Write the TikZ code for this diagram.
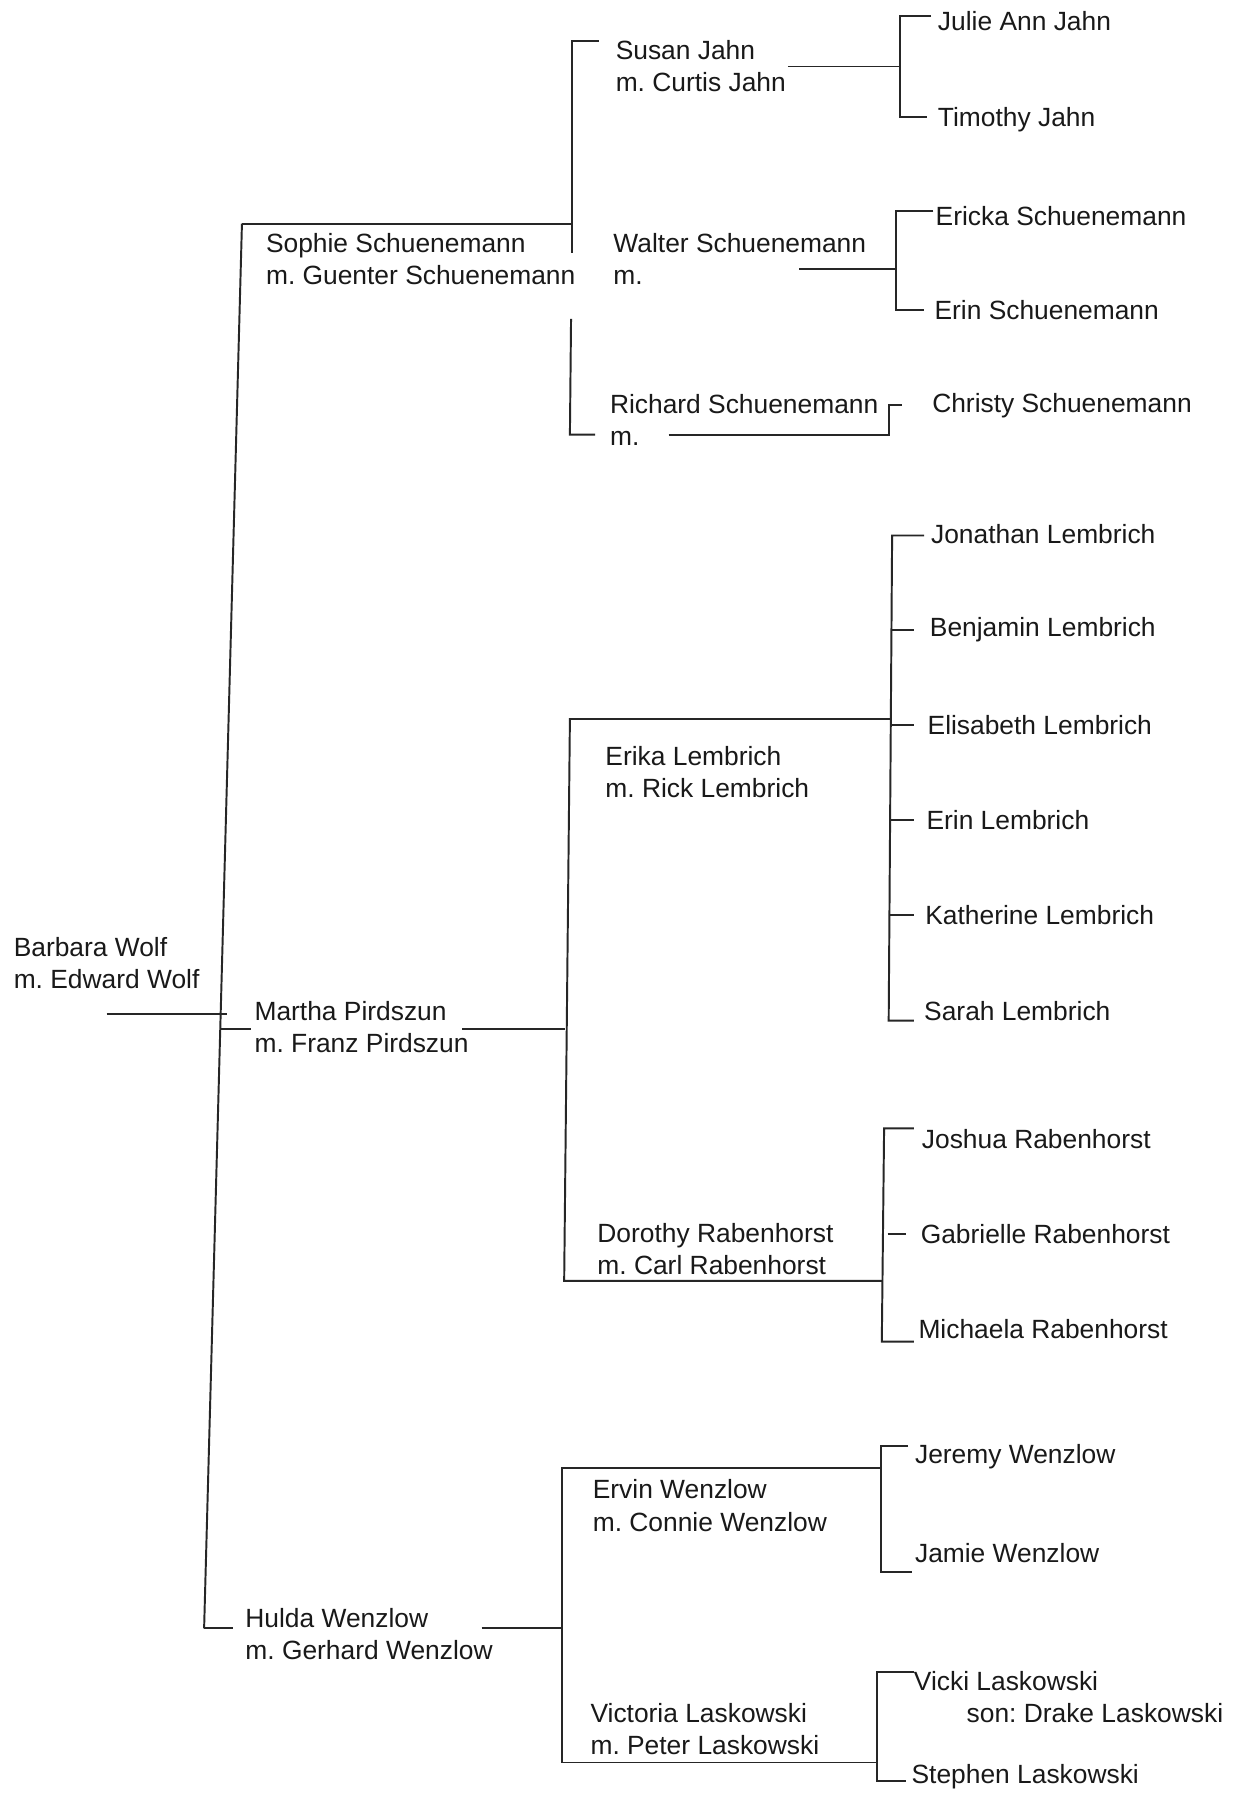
\documentclass[tikz,border=0pt]{standalone}
\usepackage{fontspec}
\setmainfont{Liberation Sans}
\frenchspacing
\begin{document}
\begin{tikzpicture}[x=0.5pt,y=-0.5pt,
  link/.style={line width=0.85pt, black!85},
  person/.style={anchor=west, inner sep=0pt, outer sep=0pt, align=left,
    font=\fontsize{11.5}{14}\selectfont, text=black!90}]
\useasboundingbox[fill=white] (0,0) rectangle (1077,1568);

% ---------- people ----------
\node[person] (barbara)  at (12,840)  {Barbara Wolf\\m. Edward Wolf};

\node[person] (sophie)   at (232,226) {Sophie Schuenemann\\m. Guenter Schuenemann};
\node[person] (martha)   at (222,896) {Martha Pirdszun\\m. Franz Pirdszun};
\node[person] (hulda)    at (214,1425) {Hulda Wenzlow\\m. Gerhard Wenzlow};

\node[person] (susan)    at (537,58)  {Susan Jahn\\m. Curtis Jahn};
\node[person] (walter)   at (535,226) {Walter Schuenemann\\m.};
\node[person] (richard)  at (532,366) {Richard Schuenemann\\m.};

\node[person] (erika)    at (528,673) {Erika Lembrich\\m. Rick Lembrich};
\node[person] (dorothy)  at (521,1089) {Dorothy Rabenhorst\\m. Carl Rabenhorst};
\node[person] (ervin)    at (517,1313) {Ervin Wenzlow\\m. Connie Wenzlow};
\node[person] (victoria) at (515,1508) {Victoria Laskowski\\m. Peter Laskowski};

\node[person] (julie)    at (818,18)   {Julie Ann Jahn};
\node[person] (timothy)  at (818,104)  {Timothy Jahn};
\node[person] (ericka)   at (816,188)  {Ericka Schuenemann};
\node[person] (erinS)    at (815,270)  {Erin Schuenemann};
\node[person] (christy)  at (813,354)  {Christy Schuenemann};

\node[person] (jonathan) at (812,466)  {Jonathan Lembrich};
\node[person] (benjamin) at (811,549)  {Benjamin Lembrich};
\node[person] (elisabeth) at (809,632) {Elisabeth Lembrich};
\node[person] (erinL)    at (808,715)  {Erin Lembrich};
\node[person] (katherine) at (807,798) {Katherine Lembrich};
\node[person] (sarah)    at (806,882)  {Sarah Lembrich};

\node[person] (joshua)   at (804,993)  {Joshua Rabenhorst};
\node[person] (gabrielle) at (803,1076) {Gabrielle Rabenhorst};
\node[person] (michaela) at (801,1159) {Michaela Rabenhorst};

\node[person] (jeremy)   at (798,1270) {Jeremy Wenzlow};
\node[person] (jamie)    at (798,1354) {Jamie Wenzlow};
\node[person] (vicki)    at (797,1466) {Vicki Laskowski};
\node[person] (drake)    at (843,1494) {son: Drake Laskowski};
\node[person] (stephen)  at (795,1549) {Stephen Laskowski};

% ---------- junction points ----------
\coordinate (rootL) at (93,884);
\coordinate (rootR) at (198,884);
\coordinate (mTop)  at (211,195);
\coordinate (mMid)  at (192,897);
\coordinate (mBot)  at (178,1420);

% first generation
\draw[link] (rootL) -- (rootR);
\draw[link] (mTop) -- (mBot);
\draw[link] (mTop) -- (498,195);
\draw[link] (mMid) -- (219,897);
\draw[link] (mBot) -- (203,1420);

% Sophie's children
\draw[link] (522,36) -- (499,36) -- (499,221);
\draw[link] (498,278) -- (497,379) -- (519,379);
\draw[link] (687,58) -- (785,58);
\draw[link] (812,14) -- (785,14) -- (785,102) -- (808,102);
\draw[link] (697,235) -- (781,235);
\draw[link] (814,184) -- (781,184) -- (781,270) -- (806,270);
\draw[link] (583,379) -- (775,379) -- (775,353) -- (787,353);

% Martha's children
\draw[link] (403,897) -- (493,897);
\draw[link] (776,627) -- (497,627) -- (492,1117) -- (770,1117);
\draw[link] (806,467) -- (778,467) -- (775,890) -- (797,890);
\foreach \yy/\xx in {549/777, 632/777, 715/776, 798/776}
  \draw[link] (\xx,\yy) -- (797,\yy);
\draw[link] (797,984) -- (771,984) -- (769,1170) -- (797,1170);
\draw[link] (774,1076) -- (790,1076);

% Hulda's children
\draw[link] (420,1420) -- (490,1420);
\draw[link] (768,1280) -- (490,1280) -- (490,1537) -- (765,1537);
\draw[link] (792,1261) -- (768,1261) -- (768,1371) -- (795,1371);
\draw[link] (797,1458) -- (765,1458) -- (765,1553) -- (790,1553);
\end{tikzpicture}
\end{document}
